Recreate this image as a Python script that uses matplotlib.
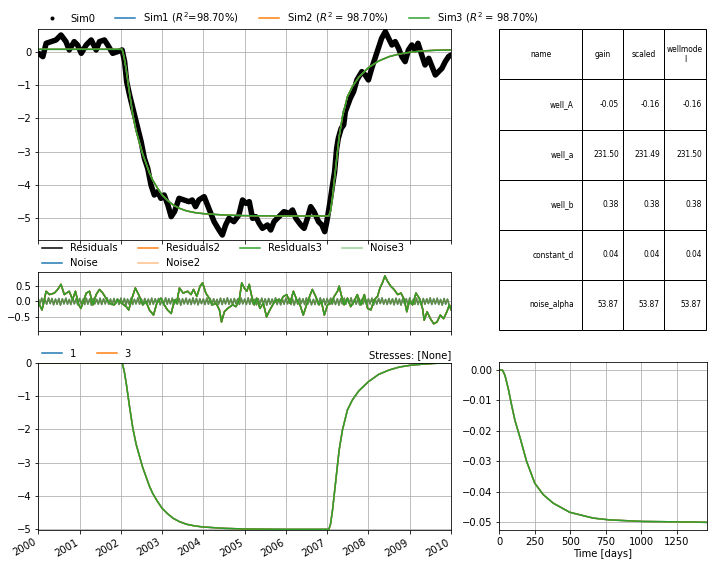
import matplotlib
matplotlib.use("Agg")
import matplotlib.pyplot as plt
import matplotlib.dates as mdates
from matplotlib.lines import Line2D
import pandas as pd

# Observaties (Sim0), decimale jaren
obs_jaar = [2000.01, 2000.11, 2000.19, 2000.31, 2000.43, 2000.55, 2000.67, 2000.75, 2000.87, 2000.95,
            2001.04, 2001.16, 2001.28, 2001.40, 2001.48, 2001.60, 2001.68, 2001.80, 2001.92, 2002.03,
            2002.09, 2002.14, 2002.21, 2002.29, 2002.37, 2002.43, 2002.49, 2002.57, 2002.65, 2002.73,
            2002.81, 2002.89, 2002.97, 2003.05, 2003.14, 2003.22, 2003.30, 2003.41, 2003.53, 2003.65,
            2003.73, 2003.81, 2003.89, 2004.02, 2004.10, 2004.18, 2004.26, 2004.38, 2004.46, 2004.54,
            2004.62, 2004.74, 2004.86, 2004.95, 2005.03, 2005.11, 2005.19, 2005.27, 2005.35, 2005.43,
            2005.55, 2005.63, 2005.71, 2005.83, 2005.95, 2006.08, 2006.16, 2006.24, 2006.36, 2006.44,
            2006.52, 2006.60, 2006.68, 2006.79, 2006.87, 2006.94, 2006.99, 2007.07, 2007.13, 2007.18,
            2007.23, 2007.27, 2007.34, 2007.40, 2007.44, 2007.50, 2007.56, 2007.64, 2007.72, 2007.84,
            2007.92, 2008.00, 2008.08, 2008.16, 2008.24, 2008.32, 2008.41, 2008.49, 2008.57, 2008.65,
            2008.73, 2008.81, 2008.89, 2008.97, 2009.05, 2009.13, 2009.20, 2009.29, 2009.37, 2009.46,
            2009.54, 2009.62, 2009.70, 2009.78, 2009.86, 2009.94, 2010.00]
obs_waarde = [-0.05, -0.15, 0.25, 0.30, 0.35, 0.50, 0.30, 0.05, 0.30, 0.20,
              -0.05, 0.20, 0.35, 0.05, 0.30, 0.35, 0.20, -0.05, 0.00, 0.05,
              -0.30, -0.90, -1.30, -1.70, -2.10, -2.40, -2.70, -3.20, -3.50, -4.00,
              -4.30, -4.20, -4.40, -4.30, -4.60, -4.95, -4.80, -4.40, -4.45, -4.50,
              -4.45, -4.65, -4.45, -4.35, -4.60, -4.85, -5.10, -5.35, -5.50, -5.20,
              -5.00, -5.10, -4.90, -4.45, -4.55, -4.50, -5.00, -4.95, -5.15, -5.30,
              -5.20, -5.35, -5.10, -4.95, -4.80, -4.85, -4.75, -5.00, -5.20, -5.30,
              -5.00, -4.65, -4.80, -5.10, -5.20, -5.40, -5.10, -4.50, -4.00, -3.60,
              -2.90, -2.60, -2.30, -2.20, -1.80, -1.60, -1.40, -1.20, -0.85, -0.60,
              -0.70, -0.85, -0.50, -0.20, 0.10, 0.40, 0.60, 0.40, 0.20, 0.30,
              0.10, -0.15, -0.30, 0.05, 0.20, 0.05, 0.25, -0.10, -0.40, -0.20,
              -0.45, -0.70, -0.60, -0.50, -0.30, -0.15, -0.10]

# Simulatie (gelijk voor Sim1, Sim2, Sim3)
sim_jaar = [2000.00, 2002.03, 2002.08, 2002.13, 2002.21, 2002.29, 2002.37, 2002.45, 2002.53, 2002.61,
            2002.69, 2002.77, 2002.88, 2003.00, 2003.13, 2003.27, 2003.42, 2003.60, 2003.80, 2004.00,
            2004.50, 2005.00, 2006.00, 2007.04, 2007.08, 2007.13, 2007.21, 2007.29, 2007.37, 2007.49,
            2007.61, 2007.77, 2008.00, 2008.25, 2008.50, 2008.75, 2009.00, 2009.30, 2009.60, 2010.00]
sim_waarde = [0.07, 0.07, -0.18, -0.55, -1.25, -1.90, -2.38, -2.73, -3.08, -3.35,
              -3.63, -3.85, -4.08, -4.30, -4.46, -4.60, -4.70, -4.78, -4.83, -4.86,
              -4.90, -4.92, -4.93, -4.93, -4.78, -4.35, -3.45, -2.55, -1.95, -1.35,
              -1.05, -0.76, -0.48, -0.28, -0.15, -0.07, -0.02, 0.02, 0.04, 0.05]
r2_labels = ["Sim1 ($R^2$=98.70%)", "Sim2 ($R^2$ = 98.70%)", "Sim3 ($R^2$ = 98.70%)"]

# Residuen (alle drie modellen gelijk)
res_jaar = [2000.01, 2000.09, 2000.19, 2000.27, 2000.39, 2000.47, 2000.55, 2000.63, 2000.75, 2000.83,
            2000.90, 2000.98, 2001.03, 2001.16, 2001.24, 2001.32, 2001.40, 2001.48, 2001.56, 2001.64,
            2001.72, 2001.84, 2001.92, 2002.02, 2002.13, 2002.19, 2002.27, 2002.35, 2002.43, 2002.53,
            2002.61, 2002.69, 2002.79, 2002.87, 2002.97, 2003.05, 2003.13, 2003.22, 2003.30, 2003.35,
            2003.42, 2003.51, 2003.62, 2003.70, 2003.76, 2003.84, 2003.92, 2003.98, 2004.06, 2004.14,
            2004.22, 2004.31, 2004.39, 2004.44, 2004.51, 2004.59, 2004.71, 2004.79, 2004.87, 2004.93,
            2004.99, 2005.05, 2005.11, 2005.16, 2005.23, 2005.29, 2005.37, 2005.45, 2005.53, 2005.61,
            2005.70, 2005.78, 2005.86, 2005.94, 2006.02, 2006.10, 2006.18, 2006.26, 2006.34, 2006.42,
            2006.50, 2006.59, 2006.64, 2006.72, 2006.80, 2006.86, 2006.93, 2007.01, 2007.09, 2007.17,
            2007.25, 2007.29, 2007.35, 2007.41, 2007.49, 2007.57, 2007.65, 2007.73, 2007.82, 2007.90,
            2007.98, 2008.06, 2008.14, 2008.22, 2008.28, 2008.34, 2008.40, 2008.46, 2008.54, 2008.62,
            2008.71, 2008.79, 2008.87, 2008.93, 2008.99, 2009.07, 2009.15, 2009.23, 2009.31, 2009.35,
            2009.42, 2009.50, 2009.58, 2009.66, 2009.74, 2009.82, 2009.90, 2009.96, 2010.00]
res_waarde = [-0.06, -0.28, 0.34, 0.23, 0.28, 0.40, 0.57, 0.23, 0.34, 0.06,
              0.34, -0.11, -0.23, 0.28, 0.34, -0.11, 0.23, 0.40, 0.28, 0.11,
              -0.06, -0.11, 0.06, -0.06, -0.17, -0.28, 0.11, 0.45, 0.23, -0.11,
              0.00, -0.28, -0.45, -0.06, 0.11, -0.11, -0.28, -0.40, 0.06, -0.06,
              0.45, 0.28, 0.34, 0.23, 0.40, 0.17, 0.51, 0.62, 0.28, 0.11,
              -0.11, -0.06, -0.28, -0.68, -0.34, -0.23, -0.11, -0.17, 0.06, 0.62,
              0.45, 0.34, 0.57, 0.23, -0.11, 0.11, -0.23, -0.06, -0.51, -0.28,
              -0.06, 0.06, 0.00, 0.17, 0.23, -0.06, 0.34, 0.06, -0.11, -0.45,
              -0.11, 0.23, 0.40, 0.17, -0.11, 0.00, -0.45, -0.11, -0.06, 0.17,
              0.34, 0.51, 0.17, -0.11, 0.11, -0.17, 0.00, 0.23, -0.11, 0.23,
              -0.23, -0.28, 0.06, 0.17, 0.45, 0.62, 0.85, 0.68, 0.51, 0.40,
              0.23, 0.28, 0.06, -0.34, 0.00, -0.11, 0.28, 0.11, -0.23, -0.62,
              -0.34, -0.57, -0.74, -0.68, -0.45, -0.57, -0.34, -0.11, -0.28]

# Ruis (Noise) - smalle band rond nul, halfmaandelijkse waarden
ruis_waarde = [
    0.09, -0.08, 0.11, -0.10, 0.07, -0.09, 0.12, -0.07, 0.10, -0.11,
    0.08, -0.09, 0.10, -0.12, 0.09, -0.08, 0.11, -0.09, 0.07, -0.10,
    0.12, -0.08, 0.09, -0.11, 0.10, -0.07, 0.08, -0.10, 0.11, -0.09,
    0.09, -0.12, 0.10, -0.08, 0.07, -0.09, 0.11, -0.10, 0.09, -0.08,
    0.12, -0.09, 0.08, -0.11, 0.10, -0.07, 0.09, -0.10, 0.11, -0.08,
    0.10, -0.12, 0.08, -0.09, 0.11, -0.10, 0.07, -0.08, 0.12, -0.09,
    0.09, -0.11, 0.10, -0.08, 0.08, -0.10, 0.11, -0.09, 0.09, -0.07,
    0.10, -0.11, 0.08, -0.10, 0.12, -0.09, 0.09, -0.08, 0.11, -0.10,
    0.07, -0.09, 0.10, -0.12, 0.09, -0.08, 0.11, -0.09, 0.08, -0.10,
    0.12, -0.08, 0.10, -0.11, 0.09, -0.07, 0.08, -0.10, 0.11, -0.09,
    0.10, -0.12, 0.09, -0.08, 0.07, -0.09, 0.11, -0.10, 0.09, -0.08,
    0.12, -0.09, 0.08, -0.11, 0.10, -0.07, 0.09, -0.10, 0.11, -0.08,
    0.08, -0.10, 0.12, -0.09, 0.10, -0.08, 0.07, -0.11, 0.09, -0.10,
    0.11, -0.08, 0.09, -0.12, 0.10, -0.09, 0.08, -0.07, 0.12, -0.10,
    0.09, -0.11, 0.07, -0.09, 0.11, -0.08, 0.10, -0.10, 0.08, -0.12,
    0.10, -0.09, 0.11, -0.07, 0.09, -0.10, 0.12, -0.08, 0.08, -0.11,
    0.07, -0.10, 0.10, -0.09, 0.12, -0.08, 0.09, -0.11, 0.10, -0.07,
    0.11, -0.09, 0.08, -0.10, 0.09, -0.12, 0.10, -0.08, 0.11, -0.09,
    0.09, -0.07, 0.12, -0.10, 0.08, -0.09, 0.11, -0.11, 0.07, -0.08,
    0.10, -0.10, 0.09, -0.08, 0.11, -0.12, 0.08, -0.09, 0.10, -0.07,
    0.12, -0.09, 0.07, -0.10, 0.10, -0.08, 0.09, -0.11, 0.11, -0.09,
    0.08, -0.12, 0.10, -0.07, 0.09, -0.10, 0.12, -0.08, 0.07, -0.09,
    0.11, -0.10, 0.08, -0.11, 0.10, -0.09, 0.09, -0.07, 0.12, -0.10,
    0.09, -0.08, 0.11, -0.10, 0.07, -0.12, 0.10, -0.09, 0.08, -0.11]
ruis_datum = pd.date_range("2000-01-01", periods=len(ruis_waarde), freq="SMS")

# Bijdrage van de put (contributie)
con_jaar = [2000.00, 2002.03, 2002.08, 2002.13, 2002.21, 2002.29, 2002.37, 2002.45, 2002.53, 2002.61,
            2002.69, 2002.77, 2002.88, 2003.00, 2003.13, 2003.27, 2003.42, 2003.60, 2003.80, 2004.00,
            2004.50, 2005.00, 2006.00, 2007.04, 2007.08, 2007.13, 2007.21, 2007.29, 2007.37, 2007.49,
            2007.61, 2007.77, 2008.00, 2008.25, 2008.50, 2008.75, 2009.00, 2009.30, 2009.60, 2010.00]
con_waarde = [0.0, 0.0, -0.25, -0.62, -1.32, -1.97, -2.45, -2.80, -3.15, -3.42,
              -3.70, -3.92, -4.15, -4.37, -4.53, -4.67, -4.77, -4.85, -4.90, -4.93,
              -4.97, -4.99, -5.00, -5.00, -4.85, -4.42, -3.52, -2.62, -2.02, -1.42,
              -1.12, -0.84, -0.57, -0.35, -0.22, -0.13, -0.08, -0.045, -0.02, -0.005]

# Stapresponsie
stap_dagen = [0, 23, 40, 63, 87, 110, 145, 192, 250, 309, 379, 496, 660, 777, 1011, 1362, 1460]
stap_waarde = [0.0, -0.0002, -0.0019, -0.0062, -0.0117, -0.0166, -0.0221, -0.0300, -0.0372,
               -0.0409, -0.0437, -0.0467, -0.0486, -0.0492, -0.0497, -0.0499, -0.0500]

# Parametertabel
tabel_kolommen = ["name", "gain", "scaled", "wellmode\nl"]
param_namen = ["well_A", "well_a", "well_b", "constant_d", "noise_alpha"]
param_gain = ["-0.05", "231.50", "0.38", "0.04", "53.87"]
param_scaled = ["-0.16", "231.49", "0.38", "0.04", "53.87"]
param_well = ["-0.16", "231.50", "0.38", "0.04", "53.87"]


def naar_datum(jaren):
    # decimaal jaar -> datetime
    return pd.to_datetime([pd.Timestamp(int(j), 1, 1) + pd.Timedelta(days=(j - int(j)) * 365.25)
                           for j in jaren])


W, H = 712, 568
DPI = 72
fig = plt.figure(figsize=(W / DPI, H / DPI), dpi=DPI)


def px(l, t, r, b):
    return [l / W, 1 - b / H, (r - l) / W, (b - t) / H]


ax_sim = fig.add_axes(px(38.3, 29.3, 451, 240))
ax_res = fig.add_axes(px(38.3, 272.3, 451, 331), sharex=ax_sim)
ax_con = fig.add_axes(px(38.3, 362.7, 451, 530), sharex=ax_sim)
ax_stap = fig.add_axes(px(499.3, 362, 706.7, 530))
ax_tab = fig.add_axes(px(499.3, 29.3, 706, 330))

kleuren = ["C0", "C1", "C2"]

# Bovenste paneel: observaties + simulaties
ax_sim.plot(naar_datum(obs_jaar), obs_waarde, color="k", lw=5.5, solid_capstyle="round",
            solid_joinstyle="round")
handles = [Line2D([], [], marker=".", ls="none", color="k", label="Sim0")]
for kleur, lab in zip(kleuren, r2_labels):
    l, = ax_sim.plot(naar_datum(sim_jaar), sim_waarde, color=kleur, lw=1.5, label=lab)
    handles.append(l)
ax_sim.legend(handles=handles, loc="lower left", bbox_to_anchor=(0, 1), ncol=4,
              frameon=False, borderaxespad=0)
ax_sim.set_ylim(-5.65, 0.67)
ax_sim.grid(True)

# Residuen en ruis
res_d = naar_datum(res_jaar)
ax_res.plot(res_d, res_waarde, color="k", lw=1.5, label="Residuals")
ax_res.plot(ruis_datum, ruis_waarde, color="C0", lw=1.5, label="Noise")
ax_res.plot(res_d, res_waarde, color="C1", lw=1.5, label="Residuals2")
ax_res.plot(ruis_datum, ruis_waarde, color="C1", lw=1.5, alpha=0.5, label="Noise2")
ax_res.plot(res_d, res_waarde, color="C2", lw=1.5, label="Residuals3")
ax_res.plot(ruis_datum, ruis_waarde, color="C2", lw=1.5, alpha=0.5, label="Noise3")
ax_res.legend(loc="lower left", bbox_to_anchor=(0, 1), ncol=4, frameon=False,
              borderaxespad=0)
ax_res.set_ylim(-0.98, 0.97)
ax_res.grid(True)

# Contributie
con_d = naar_datum(con_jaar)
ax_con.plot(con_d, con_waarde, color="C0", lw=1.5, label="1")
ax_con.plot(con_d, con_waarde, color="C1", lw=1.5, label="3")
ax_con.plot(con_d, con_waarde, color="C2", lw=1.5)
ax_con.legend(loc="lower left", bbox_to_anchor=(0, 1), ncol=2, frameon=False,
              borderaxespad=0)
ax_con.set_title("Stresses: [None]", loc="right", fontsize=10, pad=5)
ax_con.set_ylim(-5.02, 0.0)
ax_con.grid(True)

ax_con.set_xlim(pd.Timestamp("2000-01-01"), pd.Timestamp("2010-01-01"))
ax_con.xaxis.set_major_locator(mdates.YearLocator())
ax_con.xaxis.set_major_formatter(mdates.DateFormatter("%Y"))
ax_sim.tick_params(labelbottom=False)
ax_res.tick_params(labelbottom=False)
plt.setp(ax_con.get_xticklabels(), rotation=30, ha="right")

# Stapresponsie
for kleur in kleuren:
    ax_stap.plot(stap_dagen, stap_waarde, color=kleur, lw=1.5)
ax_stap.set_xlim(0, stap_dagen[-1])
ax_stap.set_xticks([0, 250, 500, 750, 1000, 1250])
ax_stap.set_xlabel("Time [days]", labelpad=2)
ax_stap.grid(True)

# Tabel met parameters
ax_tab.axis("off")
cel_tekst = [[n, g, s, w] for n, g, s, w in zip(param_namen, param_gain, param_scaled, param_well)]
tabel = ax_tab.table(cellText=cel_tekst, colLabels=tabel_kolommen, cellLoc="right",
                     colLoc="center", bbox=[0, 0, 1, 1],
                     colWidths=[0.40, 0.198, 0.198, 0.204])
tabel.auto_set_font_size(False)
tabel.set_fontsize(7.5)

fig.savefig("out.png", dpi=DPI)
